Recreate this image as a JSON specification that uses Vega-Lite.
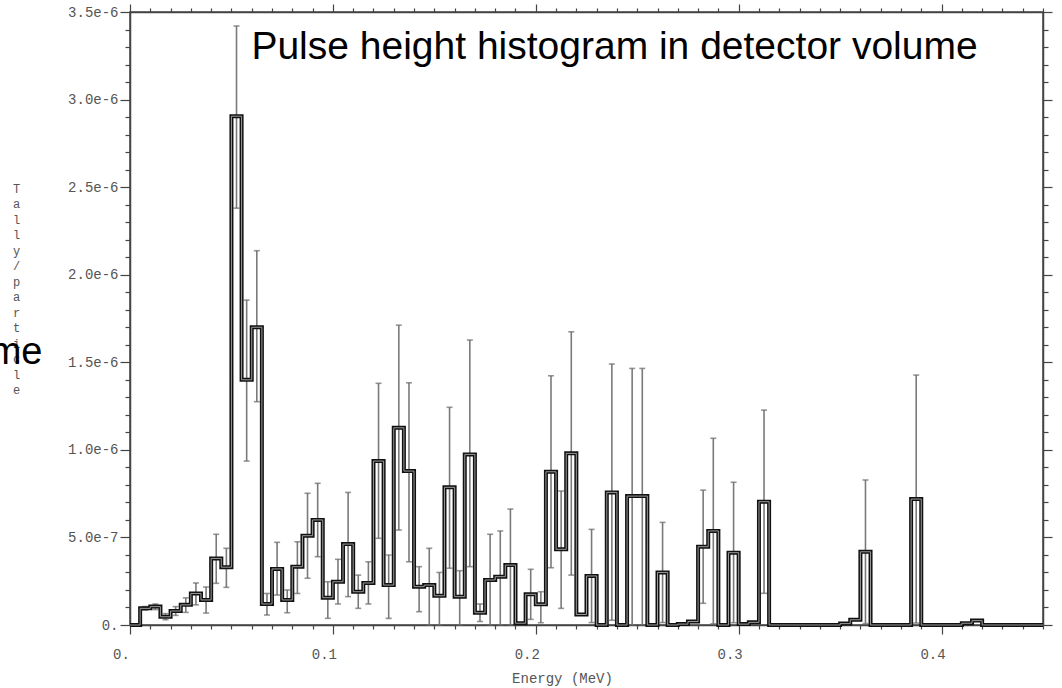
{
  "$schema": "https://vega.github.io/schema/vega-lite/v6.json",
  "autosize": {"type": "none"},
  "width": 913,
  "height": 613,
  "padding": {"left": 130, "top": 12, "right": 19, "bottom": 63},
  "background": "white",
  "config": {
    "view": {"stroke": "#444", "strokeWidth": 1.5},
    "axis": {
      "grid": false,
      "domainColor": "#444",
      "domainWidth": 1.5,
      "tickColor": "#444",
      "tickWidth": 1.2,
      "labelColor": "#555",
      "labelFont": "Liberation Mono",
      "labelFontSize": 14,
      "titleFont": "Liberation Mono",
      "titleFontSize": 14,
      "titleColor": "#555",
      "titleFontWeight": "normal",
      "labelOverlap": false,
      "labelFlush": false
    }
  },
  "data": {
    "values": [
      {"e": 0, "m": 0.0025, "v": 0},
      {"e": 0.005, "m": 0.0075, "v": 9.5e-8, "lo": 8.5e-8, "hi": 1.05e-7},
      {"e": 0.01, "m": 0.0125, "v": 1.05e-7, "lo": 8.8e-8, "hi": 1.2e-7},
      {"e": 0.015, "m": 0.0175, "v": 4.7e-8, "lo": 3.0e-8, "hi": 6.5e-8},
      {"e": 0.02, "m": 0.0225, "v": 8.0e-8, "lo": 5.5e-8, "hi": 1.05e-7},
      {"e": 0.025, "m": 0.0275, "v": 1.15e-7, "lo": 7.2e-8, "hi": 1.55e-7},
      {"e": 0.03, "m": 0.0325, "v": 1.8e-7, "lo": 1.15e-7, "hi": 2.4e-7},
      {"e": 0.035, "m": 0.0375, "v": 1.43e-7, "lo": 6.8e-8, "hi": 2.17e-7},
      {"e": 0.04, "m": 0.0425, "v": 3.8e-7, "lo": 2.38e-7, "hi": 5.18e-7},
      {"e": 0.045, "m": 0.0475, "v": 3.3e-7, "lo": 2.15e-7, "hi": 4.38e-7},
      {"e": 0.05, "m": 0.0525, "v": 2.905e-6, "lo": 2.38e-6, "hi": 3.42e-6},
      {"e": 0.055, "m": 0.0575, "v": 1.4e-6, "lo": 9.36e-7, "hi": 1.855e-6},
      {"e": 0.06, "m": 0.0625, "v": 1.7e-6, "lo": 1.275e-6, "hi": 2.137e-6},
      {"e": 0.065, "m": 0.0675, "v": 1.2e-7, "lo": 5.7e-8, "hi": 1.8e-7},
      {"e": 0.07, "m": 0.0725, "v": 3.2e-7, "lo": 1.71e-7, "hi": 4.72e-7},
      {"e": 0.075, "m": 0.0775, "v": 1.43e-7, "lo": 7.0e-8, "hi": 2.0e-7},
      {"e": 0.08, "m": 0.0825, "v": 3.33e-7, "lo": 1.8e-7, "hi": 4.75e-7},
      {"e": 0.085, "m": 0.0875, "v": 5.1e-7, "lo": 2.67e-7, "hi": 7.52e-7},
      {"e": 0.09, "m": 0.0925, "v": 6.0e-7, "lo": 3.9e-7, "hi": 8.09e-7},
      {"e": 0.095, "m": 0.0975, "v": 1.56e-7, "lo": 3.8e-8, "hi": 2.47e-7},
      {"e": 0.1, "m": 0.1025, "v": 2.47e-7, "lo": 1.2e-7, "hi": 3.75e-7},
      {"e": 0.105, "m": 0.1075, "v": 4.62e-7, "lo": 1.62e-7, "hi": 7.57e-7},
      {"e": 0.11, "m": 0.1125, "v": 1.9e-7, "lo": 9.5e-8, "hi": 2.85e-7},
      {"e": 0.115, "m": 0.1175, "v": 2.4e-7, "lo": 1.2e-7, "hi": 3.61e-7},
      {"e": 0.12, "m": 0.1225, "v": 9.36e-7, "lo": 4.95e-7, "hi": 1.38e-6},
      {"e": 0.125, "m": 0.1275, "v": 2.28e-7, "lo": 3.8e-8, "hi": 4.0e-7},
      {"e": 0.13, "m": 0.1325, "v": 1.126e-6, "lo": 5.42e-7, "hi": 1.712e-6},
      {"e": 0.135, "m": 0.1375, "v": 8.79e-7, "lo": 3.61e-7, "hi": 1.383e-6},
      {"e": 0.14, "m": 0.1425, "v": 2.19e-7, "lo": 7.6e-8, "hi": 3.33e-7},
      {"e": 0.145, "m": 0.1475, "v": 2.28e-7, "lo": 0, "hi": 4.38e-7},
      {"e": 0.15, "m": 0.1525, "v": 1.67e-7, "lo": 0, "hi": 3.0e-7},
      {"e": 0.155, "m": 0.1575, "v": 7.86e-7, "lo": 3.24e-7, "hi": 1.243e-6},
      {"e": 0.16, "m": 0.1625, "v": 1.62e-7, "lo": 0, "hi": 3.1e-7},
      {"e": 0.165, "m": 0.1675, "v": 9.74e-7, "lo": 3.33e-7, "hi": 1.627e-6},
      {"e": 0.17, "m": 0.1725, "v": 7.0e-8, "lo": 2.0e-8, "hi": 1.2e-7},
      {"e": 0.175, "m": 0.1775, "v": 2.57e-7, "lo": 0, "hi": 5.18e-7},
      {"e": 0.18, "m": 0.1825, "v": 2.76e-7, "lo": 0, "hi": 5.37e-7},
      {"e": 0.185, "m": 0.1875, "v": 3.42e-7, "lo": 0, "hi": 6.62e-7},
      {"e": 0.19, "v": 1.0e-8},
      {"e": 0.195, "m": 0.1975, "v": 1.75e-7, "lo": 3.2e-8, "hi": 3.18e-7},
      {"e": 0.2, "m": 0.2025, "v": 1.18e-7, "lo": 1.3e-8, "hi": 1.9e-7},
      {"e": 0.205, "m": 0.2075, "v": 8.75e-7, "lo": 3.27e-7, "hi": 1.423e-6},
      {"e": 0.21, "m": 0.2125, "v": 4.32e-7, "lo": 9.5e-8, "hi": 7.65e-7},
      {"e": 0.215, "m": 0.2175, "v": 9.8e-7, "lo": 2.85e-7, "hi": 1.674e-6},
      {"e": 0.22, "v": 6.0e-8},
      {"e": 0.225, "m": 0.2275, "v": 2.8e-7, "lo": 1.4e-8, "hi": 5.46e-7},
      {"e": 0.23, "v": 0},
      {"e": 0.235, "m": 0.2375, "v": 7.57e-7, "lo": 2.7e-8, "hi": 1.49e-6},
      {"e": 0.24, "v": 0},
      {"e": 0.245, "m": 0.2475, "v": 7.36e-7, "lo": 0, "hi": 1.465e-6},
      {"e": 0.25, "m": 0.2525, "v": 7.36e-7, "lo": 0, "hi": 1.465e-6},
      {"e": 0.255, "v": 0},
      {"e": 0.26, "m": 0.2625, "v": 3.0e-7, "lo": 1.4e-8, "hi": 5.86e-7},
      {"e": 0.265, "v": 0},
      {"e": 0.27, "v": 5e-9},
      {"e": 0.275, "v": 2.0e-8},
      {"e": 0.28, "m": 0.2825, "v": 4.47e-7, "lo": 1.24e-7, "hi": 7.7e-7},
      {"e": 0.285, "m": 0.2875, "v": 5.37e-7, "lo": 7e-9, "hi": 1.066e-6},
      {"e": 0.29, "v": 0},
      {"e": 0.295, "m": 0.2975, "v": 4.13e-7, "lo": 1.3e-8, "hi": 8.15e-7},
      {"e": 0.3, "v": 5e-9},
      {"e": 0.305, "v": 1.5e-8},
      {"e": 0.31, "m": 0.3125, "v": 7.04e-7, "lo": 1.81e-7, "hi": 1.227e-6},
      {"e": 0.315, "v": 0},
      {"e": 0.35, "v": 8e-9},
      {"e": 0.355, "v": 3.0e-8},
      {"e": 0.36, "m": 0.3625, "v": 4.18e-7, "lo": 8e-9, "hi": 8.28e-7},
      {"e": 0.365, "v": 0},
      {"e": 0.385, "m": 0.3875, "v": 7.19e-7, "lo": 1.1e-8, "hi": 1.427e-6},
      {"e": 0.39, "v": 0},
      {"e": 0.41, "v": 1.0e-8},
      {"e": 0.415, "v": 2.5e-8},
      {"e": 0.42, "v": 0},
      {"e": 0.45, "v": 0}
    ]
  },
  "resolve": {"axis": {"x": "independent", "y": "independent"}},
  "layer": [
    {
      "mark": {"type": "rule", "color": "#7a7a7a", "strokeWidth": 1.6},
      "encoding": {
        "x": {
          "field": "m", "type": "quantitative",
          "scale": {"domain": [0, 0.45], "nice": false, "zero": false},
          "axis": {
            "orient": "bottom",
            "values": [0,0.01,0.02,0.03,0.04,0.05,0.06,0.07,0.08,0.09,0.1,0.11,0.12,0.13,0.14,0.15,0.16,0.17,0.18,0.19,0.2,0.21,0.22,0.23,0.24,0.25,0.26,0.27,0.28,0.29,0.3,0.31,0.32,0.33,0.34,0.35,0.36,0.37,0.38,0.39,0.4,0.41,0.42,0.43,0.44,0.45],
            "labelExpr": "abs(datum.value*10 - round(datum.value*10)) < 0.001 ? (datum.value == 0 ? '0.' : format(datum.value, '.1f')) : ''",
            "tickSize": {"condition": {"test": "abs(datum.value*10 - round(datum.value*10)) < 0.001", "value": 9}, "value": 4},
            "labelPadding": 13,
            "labelOffset": -9,
            "title": "Energy (MeV)",
            "titleX": 432,
            "titleY": 57,
            "titleAlign": "center",
            "titleBaseline": "alphabetic"
          }
        },
        "y": {
          "field": "lo", "type": "quantitative",
          "scale": {"domain": [0, 3.5e-6], "nice": false, "zero": false},
          "axis": {
            "orient": "left",
            "values": [0,1e-7,2e-7,3e-7,4e-7,5e-7,6e-7,7e-7,8e-7,9e-7,1e-6,1.1e-6,1.2e-6,1.3e-6,1.4e-6,1.5e-6,1.6e-6,1.7e-6,1.8e-6,1.9e-6,2e-6,2.1e-6,2.2e-6,2.3e-6,2.4e-6,2.5e-6,2.6e-6,2.7e-6,2.8e-6,2.9e-6,3e-6,3.1e-6,3.2e-6,3.3e-6,3.4e-6,3.5e-6],
            "labelExpr": "abs(datum.value/5e-7 - round(datum.value/5e-7)) < 0.001 ? (datum.value == 0 ? '0.' : format(datum.value, '.1e')) : ''",
            "tickSize": {"condition": {"test": "abs(datum.value/5e-7 - round(datum.value/5e-7)) < 0.001", "value": 10}, "value": 5},
            "labelPadding": 2,
            "title": ["T","a","l","l","y","/","p","a","r","t","i","c","l","e"],
            "titleFontSize": 12,
            "titleAngle": 0,
            "titleX": -114,
            "titleY": 171,
            "titleAlign": "center",
            "titleBaseline": "top",
            "titleLineHeight": 15.5
          }
        },
        "y2": {"field": "hi"}
      }
    },
    {
      "mark": {"type": "tick", "orient": "horizontal", "color": "#6a6a6a", "size": 6, "thickness": 1.6},
      "encoding": {
        "x": {
          "field": "m", "type": "quantitative",
          "scale": {"domain": [0, 0.45], "nice": false, "zero": false},
          "axis": {
            "orient": "top",
            "values": [0,0.01,0.02,0.03,0.04,0.05,0.06,0.07,0.08,0.09,0.1,0.11,0.12,0.13,0.14,0.15,0.16,0.17,0.18,0.19,0.2,0.21,0.22,0.23,0.24,0.25,0.26,0.27,0.28,0.29,0.3,0.31,0.32,0.33,0.34,0.35,0.36,0.37,0.38,0.39,0.4,0.41,0.42,0.43,0.44,0.45],
            "labels": false,
            "tickSize": {"condition": {"test": "abs(datum.value*10 - round(datum.value*10)) < 0.001", "value": 8}, "value": 4},
            "title": "Pulse height histogram in detector volume",
            "titleFont": "Liberation Sans",
            "titleFontSize": 39,
            "titleColor": "#000000",
            "titleX": 484,
            "titleY": 46,
            "titleAlign": "center",
            "titleBaseline": "alphabetic",
            "titleAngle": 0
          }
        },
        "y": {
          "field": "hi", "type": "quantitative",
          "scale": {"domain": [0, 3.5e-6], "nice": false, "zero": false},
          "axis": {
            "orient": "right",
            "values": [0,1e-7,2e-7,3e-7,4e-7,5e-7,6e-7,7e-7,8e-7,9e-7,1e-6,1.1e-6,1.2e-6,1.3e-6,1.4e-6,1.5e-6,1.6e-6,1.7e-6,1.8e-6,1.9e-6,2e-6,2.1e-6,2.2e-6,2.3e-6,2.4e-6,2.5e-6,2.6e-6,2.7e-6,2.8e-6,2.9e-6,3e-6,3.1e-6,3.2e-6,3.3e-6,3.4e-6,3.5e-6],
            "labels": false,
            "tickSize": {"condition": {"test": "abs(datum.value/5e-7 - round(datum.value/5e-7)) < 0.001", "value": 9}, "value": 5},
            "title": null
          }
        }
      }
    },
    {
      "mark": {"type": "tick", "orient": "horizontal", "color": "#6a6a6a", "size": 6, "thickness": 1.6},
      "encoding": {
        "x": {
          "field": "m", "type": "quantitative",
          "scale": {"domain": [0, 0.45], "nice": false, "zero": false},
          "axis": null
        },
        "y": {
          "field": "lo", "type": "quantitative",
          "scale": {"domain": [0, 3.5e-6], "nice": false, "zero": false},
          "axis": {
            "orient": "left",
            "domain": false,
            "ticks": false,
            "labels": false,
            "title": "me",
            "titleFont": "Liberation Sans",
            "titleFontSize": 38,
            "titleColor": "#000000",
            "titleAngle": 0,
            "titleX": -88,
            "titleY": 351,
            "titleAlign": "right",
            "titleBaseline": "alphabetic"
          }
        }
      }
    },
    {
      "mark": {"type": "line", "interpolate": "step-after", "color": "#111111", "strokeWidth": 4},
      "encoding": {
        "x": {"field": "e", "type": "quantitative", "scale": {"domain": [0, 0.45], "nice": false, "zero": false}, "axis": null},
        "y": {"field": "v", "type": "quantitative", "scale": {"domain": [0, 3.5e-6], "nice": false, "zero": false}, "axis": null}
      }
    },
    {
      "mark": {"type": "line", "interpolate": "step-after", "color": "#9a9a9a", "strokeWidth": 1},
      "encoding": {
        "x": {"field": "e", "type": "quantitative", "scale": {"domain": [0, 0.45], "nice": false, "zero": false}, "axis": null},
        "y": {"field": "v", "type": "quantitative", "scale": {"domain": [0, 3.5e-6], "nice": false, "zero": false}, "axis": null}
      }
    }
  ]
}
